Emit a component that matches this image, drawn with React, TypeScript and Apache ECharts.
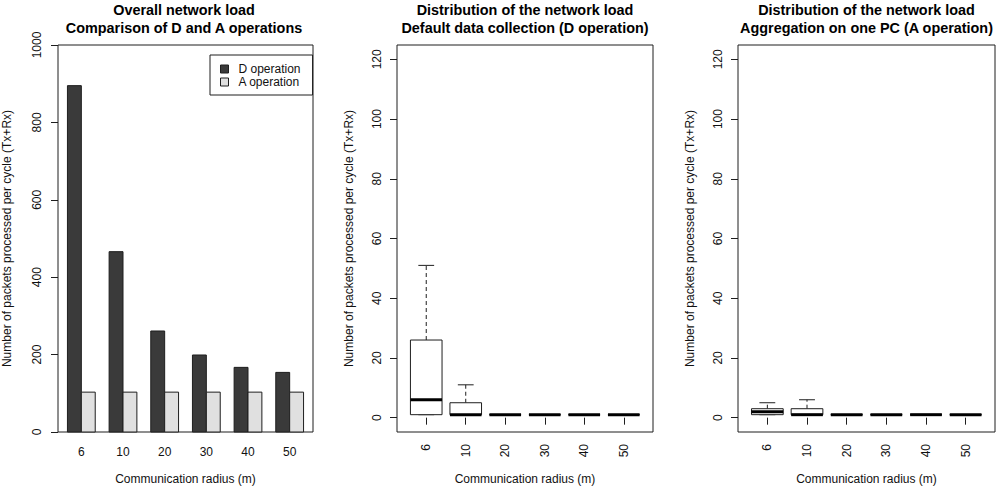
import React, { useEffect, useRef } from 'react';
import * as echarts from 'echarts';

const radii = ['6', '10', '20', '30', '40', '50'];
const overallD = [895, 466, 261, 199, 167, 154];
const overallA = [103, 103, 103, 103, 103, 103];
// [lower whisker, Q1, median, Q3, upper whisker]
const distD = [
  [1, 1, 6, 26, 51],
  [1, 1, 1, 5, 11],
  [1, 1, 1, 1, 1],
  [1, 1, 1, 1, 1],
  [1, 1, 1, 1, 1],
  [1, 1, 1, 1, 1],
];
const distA = [
  [1, 1, 2, 3, 5],
  [1, 1, 1, 3, 6],
  [1, 1, 1, 1, 1],
  [1, 1, 1, 1, 1],
  [1, 1, 1, 1, 1],
  [1, 1, 1, 1, 1],
];
const loadTicks = [0, 200, 400, 600, 800, 1000];
const distTicks = [0, 20, 40, 60, 80, 100, 120];
const seriesNames = ['D operation', 'A operation'];
const titles = [
  'Overall network load\nComparison of D and A operations',
  'Distribution of the network load\nDefault data collection (D operation)',
  'Distribution of the network load\nAggregation on one PC (A operation)',
];
const yTitle = 'Number of packets processed per cycle (Tx+Rx)';
const xTitle = 'Communication radius (m)';

const FONT = '"Liberation Sans", Arial, Helvetica, sans-serif';
const INK = '#1e1e1e';
const DARK = '#3a3a3a';
const LIGHT = '#e0e0e0';

const frames = [
  { left: 55, top: 45, width: 258, height: 387 },
  { left: 397, top: 45, width: 256, height: 387 },
  { left: 738, top: 45, width: 257, height: 387 },
];

const groupCenters = radii.map((_, i) => 2 + 3 * i);
const boxPositions = radii.map((_, i) => i + 1);

function barRender(slot: number, fill: string) {
  return (params: any, api: any) => {
    const i = api.value(0);
    const v = api.value(1);
    const x0 = 1 + 3 * i + slot;
    const p0 = api.coord([x0, 0]);
    const p1 = api.coord([x0 + 1, v]);
    return {
      type: 'rect',
      shape: { x: p0[0], y: p1[1], width: p1[0] - p0[0], height: p0[1] - p1[1] },
      style: { fill, stroke: INK, lineWidth: 1 },
    };
  };
}

function boxRender(params: any, api: any) {
  const x = api.value(0);
  const lo = api.value(1);
  const q1 = api.value(2);
  const med = api.value(3);
  const q3 = api.value(4);
  const hi = api.value(5);
  const L = api.coord([x - 0.4, 0])[0];
  const R = api.coord([x + 0.4, 0])[0];
  const cl = api.coord([x - 0.2, 0])[0];
  const cr = api.coord([x + 0.2, 0])[0];
  const cx = api.coord([x, 0])[0];
  const y = (v: number) => api.coord([x, v])[1];
  const children: any[] = [];
  const thin = { stroke: INK, lineWidth: 1 };
  if (hi > q3) {
    children.push({ type: 'line', shape: { x1: cx, y1: y(q3), x2: cx, y2: y(hi) }, style: { ...thin, lineDash: [4, 3] } });
  }
  if (lo < q1) {
    children.push({ type: 'line', shape: { x1: cx, y1: y(q1), x2: cx, y2: y(lo) }, style: { ...thin, lineDash: [4, 3] } });
  }
  children.push({ type: 'line', shape: { x1: cl, y1: y(hi), x2: cr, y2: y(hi) }, style: thin });
  children.push({ type: 'line', shape: { x1: cl, y1: y(lo), x2: cr, y2: y(lo) }, style: thin });
  children.push({
    type: 'rect',
    shape: { x: L, y: y(q3), width: R - L, height: y(q1) - y(q3) },
    style: { fill: '#ffffff', ...thin },
  });
  children.push({ type: 'line', shape: { x1: L, y1: y(med), x2: R, y2: y(med) }, style: { stroke: '#000', lineWidth: 3 } });
  return { type: 'group', children };
}

const tickStyle = { show: true, length: 7, inside: false, lineStyle: { color: INK, width: 1 } };
const labelText = { fontSize: 12, color: '#111', fontFamily: FONT };

export default function App() {
  const ref = useRef<HTMLDivElement>(null);

  useEffect(() => {
    if (!ref.current) return;
    const chart = echarts.init(ref.current, undefined, { renderer: 'svg' });

    const option: any = {
      animation: false,
      backgroundColor: '#ffffff',
      textStyle: { fontFamily: FONT },
      title: titles.map((t, k) => ({
        text: t,
        left: frames[k].left + frames[k].width / 2,
        top: 1,
        textAlign: 'center',
        padding: 0,
        textStyle: { fontSize: 14.4, fontWeight: 'bold', color: '#000', fontFamily: FONT, lineHeight: 18 },
      })),
      legend: {
        left: 210,
        top: 55,
        orient: 'vertical',
        padding: [8, 12, 7, 10],
        itemWidth: 8,
        itemHeight: 8,
        itemGap: 1,
        selectedMode: false,
        borderColor: INK,
        borderWidth: 1,
        borderRadius: 0,
        backgroundColor: '#ffffff',
        textStyle: { fontSize: 12, lineHeight: 12, color: '#111', fontFamily: FONT, padding: [0, 0, 0, 5] },
        data: [
          { name: seriesNames[0], icon: 'rect', itemStyle: { color: DARK, borderColor: INK, borderWidth: 1 } },
          { name: seriesNames[1], icon: 'rect', itemStyle: { color: LIGHT, borderColor: INK, borderWidth: 1 } },
        ],
      },
      grid: frames.map((f) => ({
        ...f,
        show: true,
        borderColor: INK,
        borderWidth: 1,
        backgroundColor: 'transparent',
        containLabel: false,
      })),
      xAxis: [
        {
          gridIndex: 0,
          type: 'value',
          min: 0.32,
          max: 18.68,
          axisLine: { show: false },
          axisTick: { show: false },
          splitLine: { show: false },
          axisLabel: {
            ...labelText,
            margin: 14,
            customValues: groupCenters,
            formatter: (v: number) => radii[Math.round((v - 2) / 3)] ?? '',
          },
          name: xTitle,
          nameLocation: 'middle',
          nameGap: 41,
          nameTextStyle: { ...labelText },
        },
        ...[1, 2].map((g) => ({
          gridIndex: g,
          type: 'value',
          min: 0.26,
          max: 6.74,
          axisLine: { show: false },
          axisTick: { ...tickStyle, customValues: boxPositions },
          splitLine: { show: false },
          axisLabel: {
            ...labelText,
            rotate: 90,
            margin: 12,
            customValues: boxPositions,
            formatter: (v: number) => radii[Math.round(v) - 1] ?? '',
          },
          name: xTitle,
          nameLocation: 'middle',
          nameGap: 41,
          nameTextStyle: { ...labelText },
        })),
      ],
      yAxis: [
        {
          gridIndex: 0,
          type: 'value',
          min: 0,
          max: 1000,
          interval: 200,
          axisLine: { show: false },
          axisTick: { ...tickStyle, customValues: loadTicks },
          splitLine: { show: false },
          axisLabel: {
            ...labelText,
            rotate: 90,
            margin: 15,
            customValues: loadTicks,
            formatter: (v: number) => String(v),
          },
          name: yTitle,
          nameLocation: 'middle',
          nameRotate: 90,
          nameGap: 45,
          nameTextStyle: { ...labelText },
        },
        ...[1, 2].map((g) => ({
          gridIndex: g,
          type: 'value',
          min: -4.8,
          max: 124.8,
          axisLine: { show: false },
          axisTick: { ...tickStyle, customValues: distTicks },
          splitLine: { show: false },
          axisLabel: {
            ...labelText,
            rotate: 90,
            margin: 14,
            customValues: distTicks,
            formatter: (v: number) => String(v),
          },
          name: yTitle,
          nameLocation: 'middle',
          nameRotate: 90,
          nameGap: 42,
          nameTextStyle: { ...labelText },
        })),
      ],
      series: [
        {
          name: seriesNames[0],
          type: 'custom',
          xAxisIndex: 0,
          yAxisIndex: 0,
          itemStyle: { color: DARK },
          renderItem: barRender(0, DARK),
          data: overallD.map((v, i) => [i, v]),
        },
        {
          name: seriesNames[1],
          type: 'custom',
          xAxisIndex: 0,
          yAxisIndex: 0,
          itemStyle: { color: LIGHT },
          renderItem: barRender(1, LIGHT),
          data: overallA.map((v, i) => [i, v]),
        },
        {
          name: 'D distribution',
          type: 'custom',
          xAxisIndex: 1,
          yAxisIndex: 1,
          encode: { x: 0, y: [1, 2, 3, 4, 5] },
          renderItem: boxRender,
          data: distD.map((s, i) => [boxPositions[i], ...s]),
        },
        {
          name: 'A distribution',
          type: 'custom',
          xAxisIndex: 2,
          yAxisIndex: 2,
          encode: { x: 0, y: [1, 2, 3, 4, 5] },
          renderItem: boxRender,
          data: distA.map((s, i) => [boxPositions[i], ...s]),
        },
      ],
    };

    chart.setOption(option);
    return () => chart.dispose();
  }, []);

  return (
    <div
      ref={ref}
      style={{ position: 'absolute', left: 0, top: 0, width: 1000, height: 490, background: '#fff' }}
    />
  );
}
